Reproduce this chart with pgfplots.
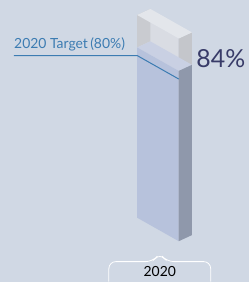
\documentclass[border=0pt]{standalone}
\usepackage{fontspec}
\setmainfont{Lato}
\usepackage{pgfplots}
\pgfplotsset{compat=1.18}
\definecolor{bg}{HTML}{D0D8E4}
\definecolor{liqfront}{HTML}{B7C2DC}
\definecolor{liqside}{HTML}{8F98AB}
\definecolor{liqtop}{HTML}{C9D0E3}
\definecolor{emptyfront}{HTML}{D9DCE3}
\definecolor{emptyside}{HTML}{C4C6CB}
\definecolor{innerwall}{HTML}{C9CBD0}
\definecolor{topface}{HTML}{E3E6EB}
\definecolor{target}{HTML}{3C7CB2}
\definecolor{valtext}{HTML}{383B68}
\begin{document}
\begin{tikzpicture}
\begin{axis}[width=249bp,height=282bp,scale only axis,hide axis,
  xmin=0,xmax=249,ymin=-31.53,ymax=107.39,clip=false]
\fill[bg] (rel axis cs:0,0) rectangle (rel axis cs:1,1);
% empty part of container (84 -> 100)
\addplot[draw=none,fill=emptyfront] coordinates {(137.3,84) (179,72.4) (179,88.4) (137.3,100) (137.3,84)};
\addplot[draw=none,fill=innerwall] coordinates {(137.3,84) (150.5,87) (150.5,103) (137.3,100) (137.3,84)};
\addplot[draw=none,fill=emptyside] coordinates {(179,72.4) (192.2,75.4) (192.2,91.4) (179,88.4) (179,72.4)};
\addplot[draw=none,fill=topface] coordinates {(137.3,100) (150.5,103) (192.2,91.4) (179,88.4) (137.3,100)};
% liquid (value 84)
\addplot[draw=none,fill=liqtop] coordinates {(137.3,84) (150.5,87) (192.2,75.4) (179,72.4) (137.3,84)};
\addplot[draw=none,fill=liqfront] coordinates {(137.3,0) (179,-11.6) (179,72.4) (137.3,84) (137.3,0)};
\addplot[draw=none,fill=liqside] coordinates {(179,-11.6) (192.2,-8.6) (192.2,75.4) (179,72.4) (179,-11.6)};
% target line (80)
\addplot[target,line width=1bp] coordinates {(14,80) (137.3,80) (179,68.4)};
\node[anchor=base west,inner sep=0pt,text=target,font=\fontsize{14}{16}\selectfont] at (axis cs:14,83.3) {2020 Target\,(80\%)};
\node[anchor=base west,inner sep=0pt,text=valtext,font=\fontsize{25}{29}\selectfont] at (axis cs:196.5,74.3) {84\%};
% category label box
\draw[white,line width=0.8bp,rounded corners=7bp] (axis cs:109,-31.53) -- (axis cs:109,-21.67) -- (axis cs:153,-21.67) -- (axis cs:160,-17.6) -- (axis cs:167,-21.67) -- (axis cs:211,-21.67) -- (axis cs:211,-31.53);
\node[anchor=base,inner sep=0pt,text=black,font=\fontsize{14}{16}\selectfont] at (axis cs:160,-29.0) {2020};
\end{axis}
\end{tikzpicture}
\end{document}
